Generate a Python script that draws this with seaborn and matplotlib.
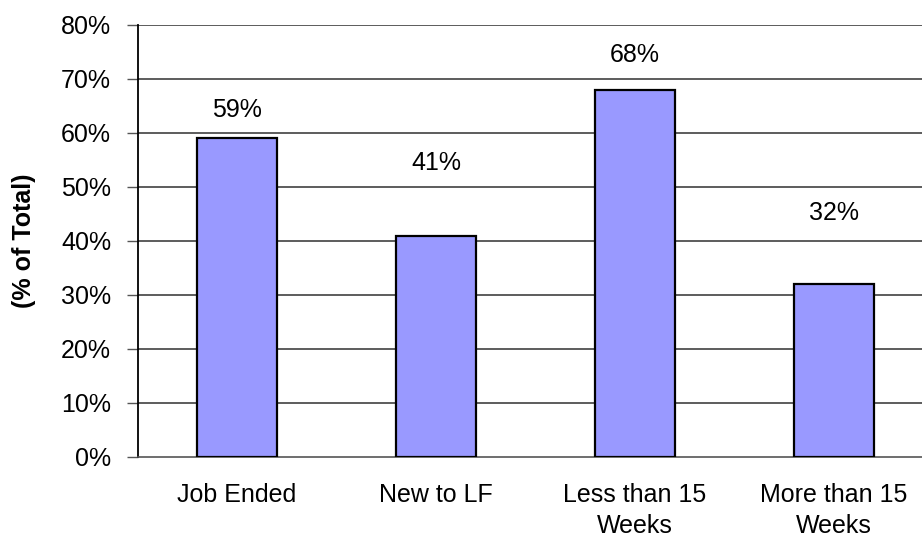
import matplotlib
matplotlib.use("Agg")
import matplotlib.pyplot as plt
import seaborn as sns
import pandas as pd
import numpy as np

categories = ["Job Ended", "New to LF", "Less than 15\nWeeks", "More than 15\nWeeks"]
values = [59, 41, 68, 32]
value_labels = ["59%", "41%", "68%", "32%"]
label_y = [64.3, 54.4, 74.4, 45.2]
y_ticks = [0, 10, 20, 30, 40, 50, 60, 70, 80]
y_tick_labels = ["0%", "10%", "20%", "30%", "40%", "50%", "60%", "70%", "80%"]

sns.set_style("white")
plt.rcParams['font.family'] = ['Liberation Sans', 'DejaVu Sans']
plt.rcParams['text.color'] = 'black'
plt.rcParams['xtick.color'] = 'black'
plt.rcParams['ytick.color'] = 'black'
plt.rcParams['axes.labelcolor'] = 'black'

W, H = 922, 540
fig = plt.figure(figsize=(W / 100, H / 100), dpi=100)
left, right, top, bottom = 137.5, 933.5, 25, 457
ax = fig.add_axes([left / W, (H - bottom) / H, (right - left) / W, (bottom - top) / H])

df = pd.DataFrame({"cat": categories, "val": values})
sns.barplot(data=df, x="cat", y="val", ax=ax, width=0.4, color="#9999FF",
            saturation=1, edgecolor="black", linewidth=1.6, zorder=3)

ax.set_xlim(-0.5, len(categories) - 0.5)
ax.set_ylim(0, 80)
ax.set_yticks(y_ticks)
ax.set_yticklabels(y_tick_labels, fontsize=18)
for yv in y_ticks[1:]:
    ax.axhline(yv, color="#303030", linewidth=1.1, zorder=1)

ax.set_xticks(range(len(categories)))
ax.set_xticklabels(categories, fontsize=18, linespacing=1.35)
ax.set_xticks(np.arange(-0.5, len(categories), 1.0), minor=True)
ax.tick_params(axis="x", which="major", length=0, pad=19)
ax.tick_params(axis="x", which="minor", length=7, width=1, color="#555555", direction="out")
ax.tick_params(axis="y", which="major", length=8, width=1, color="#555555", direction="out", pad=11, left=True)

for s in ["top", "right"]:
    ax.spines[s].set_visible(False)
ax.spines["left"].set_color("black")
ax.spines["left"].set_linewidth(1.3)
ax.spines["bottom"].set_color("#555555")
ax.spines["bottom"].set_linewidth(1.2)

ax.set_xlabel("")
ax.set_ylabel("(% of Total)", fontsize=18, fontweight="bold")
ax.yaxis.set_label_coords((36 - left) / (right - left), 0.5)

for i, (lab, ly) in enumerate(zip(value_labels, label_y)):
    ax.text(i, ly, lab, ha="center", va="center", fontsize=18, color="black", zorder=4)

fig.savefig("out.png", dpi=100)
